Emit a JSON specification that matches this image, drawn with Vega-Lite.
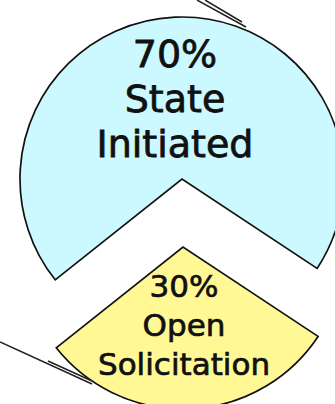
{
  "$schema": "https://vega.github.io/schema/vega-lite/v6.json",
  "width": 335,
  "height": 404,
  "autosize": "none",
  "padding": 0,
  "background": "white",
  "config": {"view": {"stroke": null}},
  "datasets": {
    "slices": [
      {"category": "Open Solicitation", "value": 30, "ord": 1, "x": 183, "y": 247},
      {"category": "State Initiated", "value": 70, "ord": 2, "x": 182, "y": 179}
    ],
    "labels": [
      {"label": ["70%", "State", "Initiated"], "group": "State Initiated", "x": 175, "y": 67},
      {"label": ["30%", "Open", "Solicitation"], "group": "Open Solicitation", "x": 184, "y": 297}
    ],
    "lines": [
      {"x": 197, "y": 0, "x2": 246, "y2": 27},
      {"x": 205, "y": 0, "x2": 242, "y2": 22},
      {"x": 0, "y": 342, "x2": 92, "y2": 384},
      {"x": 48, "y": 361, "x2": 92, "y2": 381}
    ]
  },
  "layer": [
    {
      "data": {"name": "slices"},
      "mark": {"type": "arc", "outerRadius": 162, "stroke": "#111", "strokeWidth": 1.7, "clip": true},
      "encoding": {
        "x": {"field": "x", "type": "quantitative", "scale": {"domain": [0, 335], "nice": false}, "axis": null},
        "y": {"field": "y", "type": "quantitative", "scale": {"domain": [0, 404], "nice": false, "reverse": true}, "axis": null},
        "theta": {"field": "value", "type": "quantitative", "stack": true, "scale": {"range": [2.1555, 8.4387]}},
        "order": {"field": "ord", "type": "quantitative"},
        "color": {"field": "category", "type": "nominal", "legend": null,
                  "scale": {"domain": ["State Initiated", "Open Solicitation"], "range": ["#CCF9FF", "#FFF894"]}}
      }
    },
    {
      "data": {"name": "lines"},
      "mark": {"type": "rule", "color": "#222", "strokeWidth": 1.5},
      "encoding": {
        "x": {"field": "x", "type": "quantitative"},
        "y": {"field": "y", "type": "quantitative"},
        "x2": {"field": "x2"},
        "y2": {"field": "y2"}
      }
    },
    {
      "data": {"name": "labels"},
      "transform": [{"filter": "datum.group === 'State Initiated'"}],
      "mark": {"type": "text", "font": "DejaVu Sans", "fontSize": 38, "lineHeight": 45, "align": "center", "baseline": "alphabetic", "color": "#111", "stroke": "#111", "strokeWidth": 0.8},
      "encoding": {
        "x": {"field": "x", "type": "quantitative"},
        "y": {"field": "y", "type": "quantitative"},
        "text": {"field": "label"}
      }
    },
    {
      "data": {"name": "labels"},
      "transform": [{"filter": "datum.group === 'Open Solicitation'"}],
      "mark": {"type": "text", "font": "DejaVu Sans", "fontSize": 31, "lineHeight": 39, "align": "center", "baseline": "alphabetic", "color": "#111", "stroke": "#111", "strokeWidth": 0.7},
      "encoding": {
        "x": {"field": "x", "type": "quantitative"},
        "y": {"field": "y", "type": "quantitative"},
        "text": {"field": "label"}
      }
    }
  ]
}
